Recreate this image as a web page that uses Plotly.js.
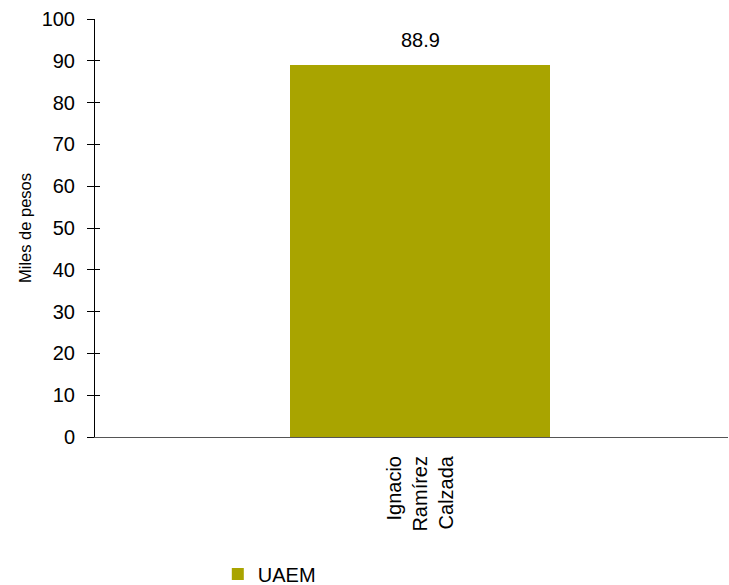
<!DOCTYPE html>
<html>
<head>
<meta charset="utf-8">
<script src="https://cdn.plot.ly/plotly-3.0.1.min.js"></script>
<style>html,body{margin:0;padding:0;background:#fff;}#chart{width:729px;height:585px;}</style>
</head>
<body>
<div id="chart"></div>
<script>
const categories = ["Ignacio<br>Ramírez<br>Calzada"];
const seriesName = "UAEM";
const values = [88.9];
const valueLabels = ["88.9"];
const yTicks = [0, 10, 20, 30, 40, 50, 60, 70, 80, 90, 100];

const font = "Liberation Sans, Arial, sans-serif";

const data = [
  {
    type: "bar",
    name: seriesName,
    x: categories,
    y: values,
    width: 0.4,
    marker: {color: "#A9A400"},
    showlegend: true
  },
  {
    type: "scatter",
    x: [],
    y: [],
    yaxis: "y2",
    showlegend: false,
    hoverinfo: "skip"
  }
];

const annotations = categories.map((c, i) => ({
  x: c,
  y: values[i],
  xref: "x",
  yref: "y",
  text: valueLabels[i],
  showarrow: false,
  yanchor: "bottom",
  yshift: 12,
  font: {family: font, size: 20, color: "#000"}
}));

const layout = {
  width: 729,
  height: 585,
  margin: {l: 95, r: 1, t: 19, b: 148},
  paper_bgcolor: "#fff",
  plot_bgcolor: "#fff",
  font: {family: font, size: 20, color: "#000"},
  bargap: 0,
  annotations: annotations,
  xaxis: {
    type: "category",
    range: [-0.5, 0.4728],
    automargin: false,
    showgrid: false,
    zeroline: false,
    showline: true,
    linecolor: "#555",
    linewidth: 1,
    ticks: "",
    ticklabelstandoff: 10,
    tickangle: -90,
    tickfont: {family: font, size: 20, color: "#000"},
    fixedrange: true
  },
  yaxis: {
    range: [0, 100],
    automargin: false,
    tickvals: yTicks,
    ticktext: yTicks.map(String),
    showgrid: false,
    zeroline: false,
    showline: true,
    linecolor: "#000",
    linewidth: 1,
    ticks: "outside",
    ticklen: 7,
    tickcolor: "#000",
    ticklabelstandoff: 8,
    tickfont: {family: font, size: 20, color: "#000"},
    title: {text: "Miles de pesos", font: {family: font, size: 16.5, color: "#000"}, standoff: 5},
    fixedrange: true
  },
  yaxis2: {
    overlaying: "y",
    anchor: "x",
    side: "left",
    range: [0, 100],
    tickvals: yTicks,
    showticklabels: false,
    showgrid: false,
    zeroline: false,
    showline: false,
    ticks: "inside",
    ticklen: 5,
    tickcolor: "#000",
    fixedrange: true
  },
  showlegend: true,
  legend: {
    orientation: "h",
    xref: "paper",
    x: 0.194,
    xanchor: "left",
    yref: "container",
    y: 0.0188,
    yanchor: "middle",
    font: {family: font, size: 20, color: "#000"},
    itemwidth: 30
  }
};

Plotly.newPlot("chart", data, layout, {displayModeBar: false, staticPlot: true});
</script>
</body>
</html>
